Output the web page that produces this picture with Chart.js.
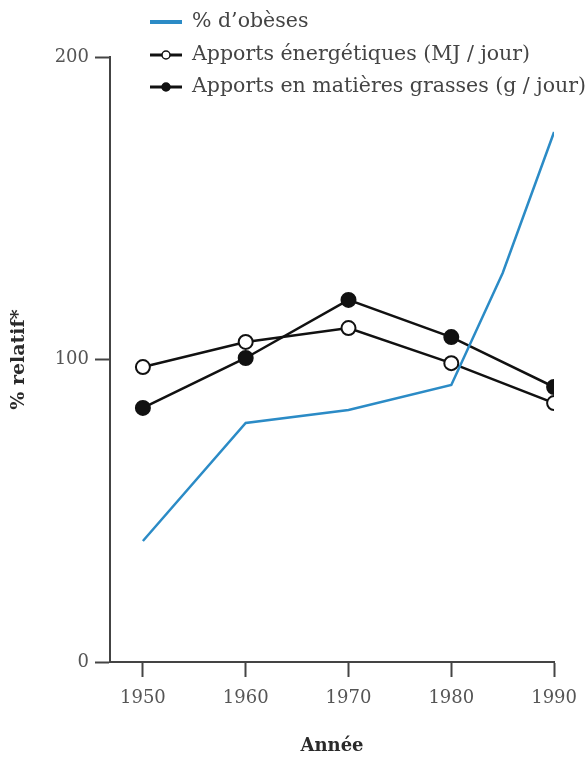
<!DOCTYPE html>
<html>
<head>
    <meta charset="UTF-8">
    <title>% relatif</title>
    <script src="https://cdn.jsdelivr.net/npm/chart.js"></script>
    <style>
        html, body {
            margin: 0;
            padding: 0;
            background: #ffffff;
        }

        .chart-container {
            position: relative;
            width: 588px;
            height: 758px;
        }
    </style>
</head>
<body>
<div class="chart-container">
    <canvas id="obesityChart" width="588" height="758"></canvas>
</div>

<script>
    // values
    const years = [1950, 1960, 1970, 1980, 1990];
    const obeseYears = [1950, 1960, 1970, 1980, 1985, 1990];
    const obeseValues = [40, 79, 83.3, 91.6, 128.6, 175.2];
    const energyValues = [97.5, 105.8, 110.4, 98.8, 85.6];
    const fatValues = [84, 100.5, 119.7, 107.4, 90.9];

    const xTicks = [1950, 1960, 1970, 1980, 1990];
    const yTicks = [0, 100, 200];

    const seriesLabels = [
        '% d\u2019obèses',
        'Apports énergétiques (MJ / jour)',
        'Apports en matières grasses (g / jour)'
    ];

    const serif = '"DejaVu Serif", "Liberation Serif", serif';
    const inkColor = '#111111';
    const axisColor = '#444444';
    const blue = '#2b8bc6';

    const toPoints = (xs, ys) => xs.map((x, i) => ({ x: x, y: ys[i] }));

    // simple legend in the top left, line + marker + text
    const sideLegend = {
        id: 'sideLegend',
        afterDraw(chart) {
            const ctx = chart.ctx;
            const rows = [22, 55, 87];
            ctx.save();
            chart.data.datasets.forEach((ds, i) => {
                const y = rows[i];
                ctx.strokeStyle = ds.borderColor;
                ctx.lineWidth = i === 0 ? 4 : 3;
                ctx.beginPath();
                ctx.moveTo(150, y);
                ctx.lineTo(182, y);
                ctx.stroke();
                if (i > 0) {
                    ctx.beginPath();
                    ctx.arc(166, y, 4, 0, Math.PI * 2);
                    ctx.fillStyle = ds.pointBackgroundColor;
                    ctx.fill();
                    ctx.lineWidth = 1.5;
                    ctx.strokeStyle = inkColor;
                    ctx.stroke();
                }
                ctx.fillStyle = '#444444';
                ctx.font = '20.5px ' + serif;
                ctx.textBaseline = 'middle';
                ctx.textAlign = 'left';
                ctx.fillText(ds.label, 192, y);
            });
            ctx.restore();
        }
    };

    const ctx = document.getElementById('obesityChart').getContext('2d');
    const obesityChart = new Chart(ctx, {
        type: 'line',
        data: {
            datasets: [{
                label: seriesLabels[0],
                data: toPoints(obeseYears, obeseValues),
                borderColor: blue,
                borderWidth: 2.5,
                pointRadius: 0,
                tension: 0
            }, {
                label: seriesLabels[1],
                data: toPoints(years, energyValues),
                borderColor: inkColor,
                borderWidth: 2.5,
                pointRadius: 7,
                pointBorderWidth: 2,
                pointBackgroundColor: '#ffffff',
                pointBorderColor: inkColor,
                tension: 0
            }, {
                label: seriesLabels[2],
                data: toPoints(years, fatValues),
                borderColor: inkColor,
                borderWidth: 2.5,
                pointRadius: 7,
                pointBorderWidth: 2,
                pointBackgroundColor: inkColor,
                pointBorderColor: inkColor,
                tension: 0
            }]
        },
        options: {
            responsive: false,
            animation: false,
            devicePixelRatio: 1,
            layout: {
                padding: { left: 0, right: 33, top: 57, bottom: 0 }
            },
            plugins: {
                legend: { display: false },
                tooltip: { enabled: false }
            },
            scales: {
                x: {
                    type: 'linear',
                    min: 1946.8,
                    max: 1990,
                    afterBuildTicks: scale => {
                        scale.ticks = xTicks.map(v => ({ value: v }));
                    },
                    afterFit: scale => {
                        scale.height = 96;
                    },
                    grid: {
                        drawOnChartArea: false,
                        drawTicks: true,
                        tickLength: 15,
                        tickWidth: 2,
                        tickColor: axisColor
                    },
                    border: { display: true, color: axisColor, width: 2 },
                    ticks: {
                        color: '#555555',
                        padding: 11,
                        maxRotation: 0,
                        font: { family: serif, size: 18 },
                        callback: v => String(v)
                    },
                    title: {
                        display: true,
                        text: 'Année',
                        color: '#2a2a2a',
                        padding: { top: 0, bottom: 1 },
                        font: { family: serif, size: 18, weight: 'bold' }
                    }
                },
                y: {
                    min: 0,
                    max: 200,
                    afterBuildTicks: scale => {
                        scale.ticks = yTicks.map(v => ({ value: v }));
                    },
                    afterFit: scale => {
                        scale.width = 110;
                    },
                    grid: {
                        drawOnChartArea: false,
                        drawTicks: true,
                        tickLength: 15,
                        tickWidth: 2,
                        tickColor: axisColor
                    },
                    border: { display: true, color: axisColor, width: 2 },
                    ticks: {
                        color: '#555555',
                        padding: 6,
                        font: { family: serif, size: 18 }
                    },
                    title: {
                        display: true,
                        text: '% relatif*',
                        color: '#2a2a2a',
                        padding: { top: 8, bottom: 0 },
                        font: { family: serif, size: 19, weight: 'bold' }
                    }
                }
            }
        },
        plugins: [sideLegend]
    });
</script>
</body>
</html>
